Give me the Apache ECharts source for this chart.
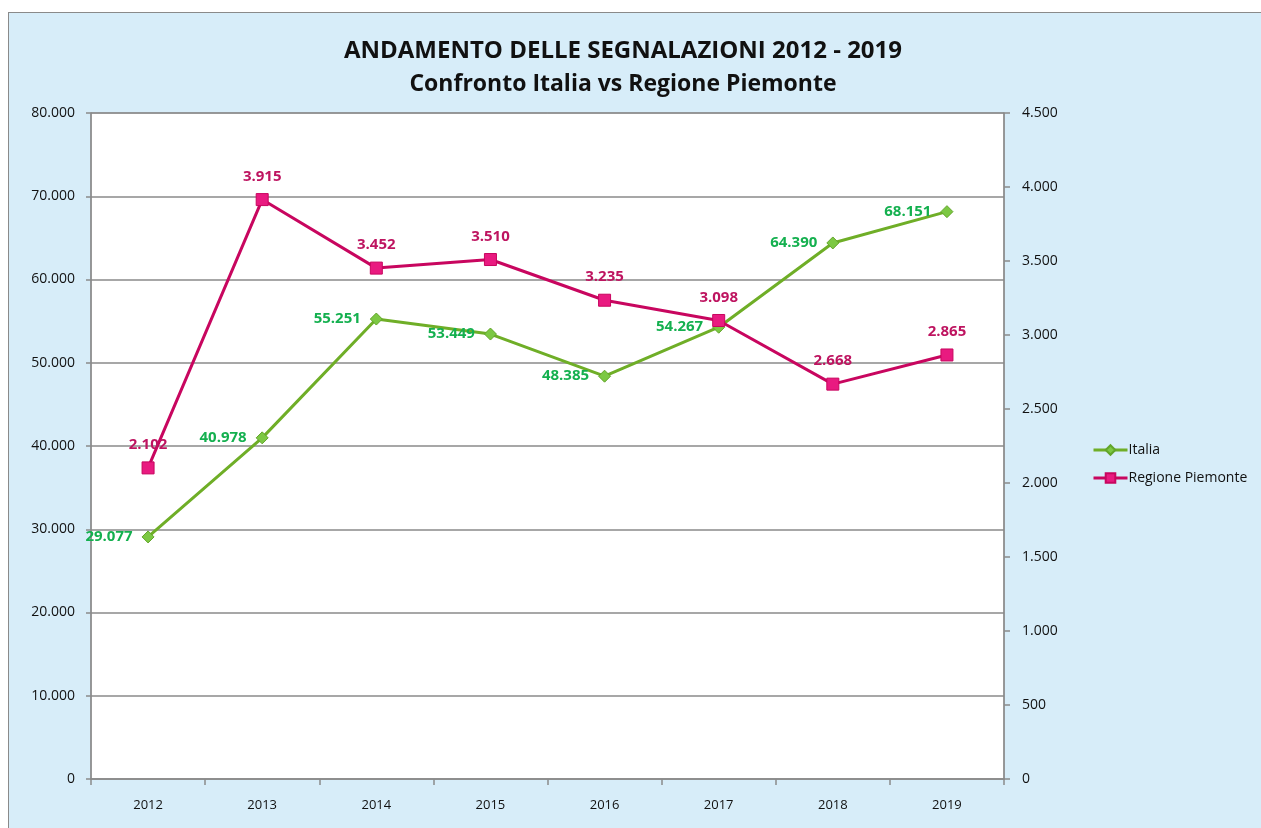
<!DOCTYPE html>
<html>
<head>
<meta charset="utf-8">
<script src="https://cdn.jsdelivr.net/npm/echarts@6/dist/echarts.min.js"></script>
<style>
html,body{margin:0;padding:0;background:#fff;width:1261px;height:828px;overflow:hidden;}
#frame{position:absolute;left:8px;top:12px;width:1260px;height:820px;background:#d7edf9;border-left:1px solid #8a8a8a;border-top:1px solid #8a8a8a;}
#chart{position:absolute;left:0;top:0;width:1261px;height:828px;}
</style>
</head>
<body>
<div id="frame"></div>
<div id="chart"></div>
<script>
var categories = ['2012','2013','2014','2015','2016','2017','2018','2019'];
var italia = [29077, 40978, 55251, 53449, 48385, 54267, 64390, 68151];
var piemonte = [2102, 3915, 3452, 3510, 3235, 3098, 2668, 2865];
var seriesNames = ['Italia', 'Regione Piemonte'];
var titleLines = ['ANDAMENTO DELLE SEGNALAZIONI 2012 - 2019', 'Confronto Italia vs Regione Piemonte'];

function fmt(v){ return String(v).replace(/\B(?=(\d{3})+(?!\d))/g, '.'); }

var chart = echarts.init(document.getElementById('chart'), null, {renderer:'canvas'});
var FONT = 'Open Sans';
chart.setOption({
  backgroundColor: 'transparent',
  animation: false,
  title: {
    text: '{a|' + titleLines[0] + '}\n{b|' + titleLines[1] + '}',
    left: 618, top: 29, textAlign: 'center',
    textStyle: {
      rich: {
        a: {fontFamily: FONT, fontWeight: 'bold', fontSize: 24, lineHeight: 34, color: '#111', align: 'center'},
        b: {fontFamily: FONT, fontWeight: 'bold', fontSize: 23, lineHeight: 33, color: '#111', align: 'center'}
      }
    }
  },
  legend: {
    orient: 'vertical', left: 1087, top: 438, itemGap: 14,
    itemWidth: 34, itemHeight: 12,
    lineStyle: {width: 3},
    textStyle: {fontFamily: FONT, fontSize: 14, color: '#111', padding:[0,0,0,-4]},
    data: seriesNames
  },
  grid: {left: 91, top: 113, right: 257, bottom: 49, show: true, backgroundColor: '#fff', borderColor: '#8a8a8a', borderWidth: 1, containLabel: false},
  xAxis: {
    type: 'category', data: categories, boundaryGap: true,
    axisLine: {lineStyle: {color: '#8a8a8a', width: 1.5}},
    axisTick: {show: true, length: 6, lineStyle: {color: '#8a8a8a', width: 1.5}},
    axisLabel: {fontFamily: FONT, fontSize: 13, color: '#111', margin: 20}
  },
  yAxis: [
    {type: 'value', min: 0, max: 80000, interval: 10000, position: 'left',
     axisLine: {show: true, lineStyle: {color: '#8a8a8a', width: 1.5}},
     axisTick: {show: true, length: 5, lineStyle: {color: '#8a8a8a', width: 1.5}},
     splitLine: {lineStyle: {color: '#8a8a8a', width: 1.5}},
     axisLabel: {fontFamily: FONT, fontSize: 14, color: '#111', margin: 16, formatter: fmt}},
    {type: 'value', min: 0, max: 4500, interval: 500, position: 'right',
     axisLine: {show: true, lineStyle: {color: '#8a8a8a', width: 1.5}},
     axisTick: {show: true, length: 6, lineStyle: {color: '#8a8a8a', width: 1.5}},
     splitLine: {show: false},
     axisLabel: {fontFamily: FONT, fontSize: 14, color: '#111', margin: 18, formatter: fmt}}
  ],
  series: [
    {name: seriesNames[0], type: 'line', yAxisIndex: 0, data: italia,
     symbol: 'diamond', symbolSize: 12,
     lineStyle: {color: '#6fae27', width: 3},
     itemStyle: {color: '#7cc843', borderColor: '#62a52a', borderWidth: 1},
     label: {show: true, position: 'left', distance: 9, fontFamily: FONT, fontSize: 15, fontWeight: 'bold', color: '#14b04f', formatter: function(p){return fmt(p.value);}},
     z: 3},
    {name: seriesNames[1], type: 'line', yAxisIndex: 1, data: piemonte,
     symbol: 'rect', symbolSize: 12,
     lineStyle: {color: '#c8065f', width: 3},
     itemStyle: {color: '#e91a80', borderColor: '#c8065f', borderWidth: 1},
     label: {show: true, position: 'top', distance: 9, fontFamily: FONT, fontSize: 15, fontWeight: 'bold', color: '#be1460', formatter: function(p){return fmt(p.value);}},
     z: 4}
  ]
});
</script>
</body>
</html>
